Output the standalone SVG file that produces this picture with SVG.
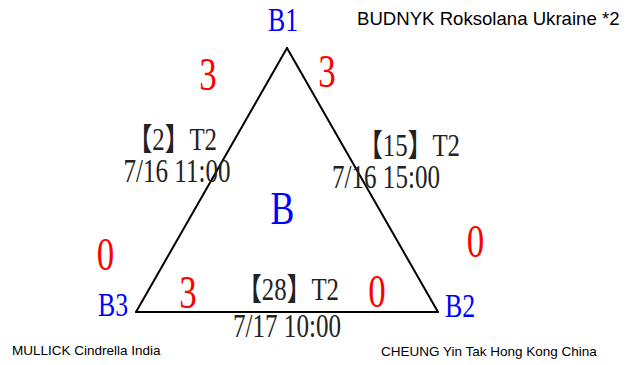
<svg xmlns="http://www.w3.org/2000/svg" width="636" height="365" viewBox="0 0 636 365">
<style>
.s{font-family:"Liberation Serif","Noto Sans CJK SC",serif;}
.blue{fill:#0000ff;font-size:34px;text-anchor:middle;}
.red{fill:#ff0000;font-size:46px;text-anchor:middle;}
.lbl{fill:#222;font-size:33px;}
.top{fill:#222;font-size:31px;text-anchor:end;}
.sans{font-family:"Liberation Sans",Arial,sans-serif;fill:#000;}
.edge{stroke:#000;stroke-width:2;fill:none;stroke-linecap:round;}
</style>
<rect width="636" height="365" fill="#fff"/>
<g id="connectors">
<line class="edge" x1="287" y1="48" x2="438" y2="312"/>
<line class="edge" x1="438" y1="312" x2="136" y2="312"/>
<line class="edge" x1="136" y1="312" x2="287" y2="48"/>
</g>
<g id="node-B1">
<text class="s blue" transform="translate(283,31) scale(0.76,1)">B1</text>
</g>
<g id="node-B2">
<text class="s blue" transform="translate(460,317) scale(0.76,1)">B2</text>
</g>
<g id="node-B3">
<text class="s blue" transform="translate(113,316) scale(0.76,1)">B3</text>
</g>
<g id="group-label">
<text class="s" fill="#0000ff" font-size="47" text-anchor="middle" transform="translate(282.5,224) scale(0.76,1)">B</text>
</g>
<g id="scores">
<text class="s red" transform="translate(208,90) scale(0.76,1)">3</text>
<text class="s red" transform="translate(327,87) scale(0.76,1)">3</text>
<text class="s red" transform="translate(105.5,270) scale(0.76,1)">0</text>
<text class="s red" transform="translate(475.5,257) scale(0.76,1)">0</text>
<text class="s red" transform="translate(188,308) scale(0.76,1)">3</text>
<text class="s red" transform="translate(377,307) scale(0.76,1)">0</text>
</g>
<g id="match-left">
<text class="s top" transform="translate(217,150) scale(0.8,1)">【2】T2</text>
<text class="s lbl" text-anchor="middle" transform="translate(177,182) scale(0.76,1)">7/16 11:00</text>
</g>
<g id="match-right">
<text class="s top" transform="translate(460,156) scale(0.8,1)">【15】T2</text>
<text class="s lbl" text-anchor="middle" transform="translate(386,188) scale(0.76,1)">7/16 15:00</text>
</g>
<g id="match-bottom">
<text class="s top" transform="translate(339,300) scale(0.8,1)">【28】T2</text>
<text class="s lbl" text-anchor="middle" transform="translate(287,337) scale(0.76,1)">7/17 10:00</text>
</g>
<g id="player-B1">
<text class="sans" x="357" y="25" font-size="18.6">BUDNYK Roksolana Ukraine *2</text>
</g>
<g id="player-B3">
<text class="sans" x="12" y="355" font-size="13.5">MULLICK Cindrella India</text>
</g>
<g id="player-B2">
<text class="sans" x="381" y="356" font-size="13.5">CHEUNG Yin Tak Hong Kong China</text>
</g>
</svg>
